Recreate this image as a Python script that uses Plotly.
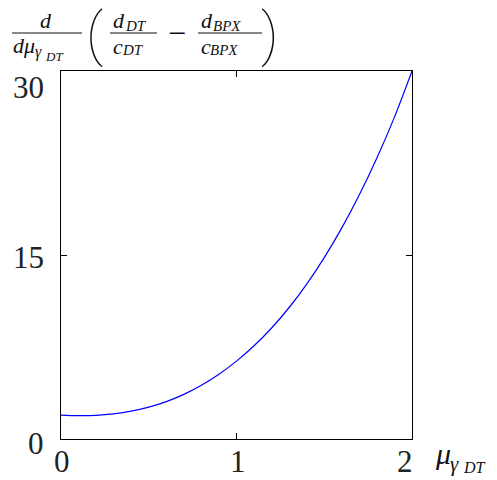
import plotly.graph_objects as go

# derivative of the cost-ratio difference vs mu_gamma_DT
mu = [0.0, 0.1, 0.2, 0.3, 0.4, 0.5, 0.6, 0.7, 0.8, 0.9, 1.0,
      1.1, 1.2, 1.3, 1.4, 1.5, 1.6, 1.7, 1.8, 1.9, 2.0]
deriv = [1.95, 1.90, 1.93, 2.05, 2.27, 2.60, 3.05, 3.64, 4.38, 5.28, 6.35,
         7.60, 9.05, 10.72, 12.63, 14.79, 17.21, 19.91, 22.91, 26.24, 30.00]

x_ticks = [0, 1, 2]
x_tick_labels = ["0", "1", "2"]
y_ticks = [0, 15, 30]
y_tick_labels = ["0", "15", "30"]

W, H = 497, 480
L, R, T, B = 61, 412, 71, 439  # plot box in pixels

SERIF = "Liberation Serif"


def fx(p):
    return (p - L) / (R - L)


def fy(p):
    return (B - p) / (B - T)


fig = go.Figure()
fig.add_trace(go.Scatter(x=mu, y=deriv, mode="lines",
                         line=dict(color="#0000ff", width=1.2, shape="spline"),
                         hoverinfo="skip"))

ann = []

# tick labels placed against the axes
x_label_shift = [1, 1.5, -7]
for v, t, s in zip(x_ticks, x_tick_labels, x_label_shift):
    ann.append(dict(x=v, y=0, xref="x", yref="paper", text=t, showarrow=False,
                    xanchor="center", yanchor="middle", xshift=s, yshift=-22,
                    font=dict(family=SERIF, size=31, color="#222")))
y_label_shift = [-4, -2, -16]
for v, t, s in zip(y_ticks, y_tick_labels, y_label_shift):
    ann.append(dict(x=fx(46), y=v, xref="paper", yref="y", text=t, showarrow=False,
                    xanchor="right", yanchor="middle", yshift=s,
                    font=dict(family=SERIF, size=31, color="#222")))


def txt(x, y, s, size, anchor="center", family=SERIF, weight="normal"):
    ann.append(dict(x=fx(x), y=fy(y), xref="paper", yref="paper", text=s,
                    showarrow=False, xanchor=anchor, yanchor="middle",
                    font=dict(family=family, size=size, color="#111", weight=weight)))


# x-axis title  mu_{gamma_DT}
txt(433, 454, "<i>μ</i>", 30, "left")
txt(448, 464, "<i>γ</i>", 21, "left")
txt(461, 467, "<i>DT</i>", 16, "left")

# y-axis title: d/dmu_{gamma_DT} ( d_DT/c_DT - d_BPX/c_BPX )
txt(46, 20, "<i>d</i>", 22)
txt(11, 45, "<i>dμ</i>", 22, "left")
txt(33, 52, "<i>γ</i>", 16, "left")
txt(43, 57, "<i>DT</i>", 13, "left")
txt(94, 34, "(", 58, family="Roboto", weight=100)
txt(111, 21, "<i>d</i>", 22, "left")
txt(123, 26, "<i>DT</i>", 15, "left")
txt(111, 46, "<i>c</i>", 22, "left")
txt(120, 50, "<i>DT</i>", 15, "left")
txt(177, 33, "−", 32)
txt(199, 21, "<i>d</i>", 22, "left")
txt(211, 26, "<i>BPX</i>", 15, "left")
txt(199, 46, "<i>c</i>", 22, "left")
txt(208, 50, "<i>BPX</i>", 15, "left")
txt(270, 34, ")", 58, family="Roboto", weight=100)

shapes = []
for x0, x1 in [(12, 82), (110, 157), (198, 262)]:
    shapes.append(dict(type="line", xref="paper", yref="paper",
                       x0=fx(x0), x1=fx(x1), y0=fy(33), y1=fy(33),
                       line=dict(color="#111", width=1.2)))

axis_common = dict(showline=True, linecolor="black", linewidth=1.4, mirror="ticks",
                   ticks="inside", ticklen=6, tickcolor="black", tickwidth=1,
                   showticklabels=False, showgrid=False, zeroline=False, fixedrange=True)

fig.update_layout(
    width=W, height=H,
    margin=dict(l=L, r=W - R, t=T, b=H - B),
    paper_bgcolor="white", plot_bgcolor="white",
    showlegend=False,
    xaxis=dict(range=[0, 2], tickvals=x_ticks, **axis_common),
    yaxis=dict(range=[0, 30], tickvals=y_ticks, **axis_common),
    annotations=ann, shapes=shapes,
)

fig.write_html("out.html")
